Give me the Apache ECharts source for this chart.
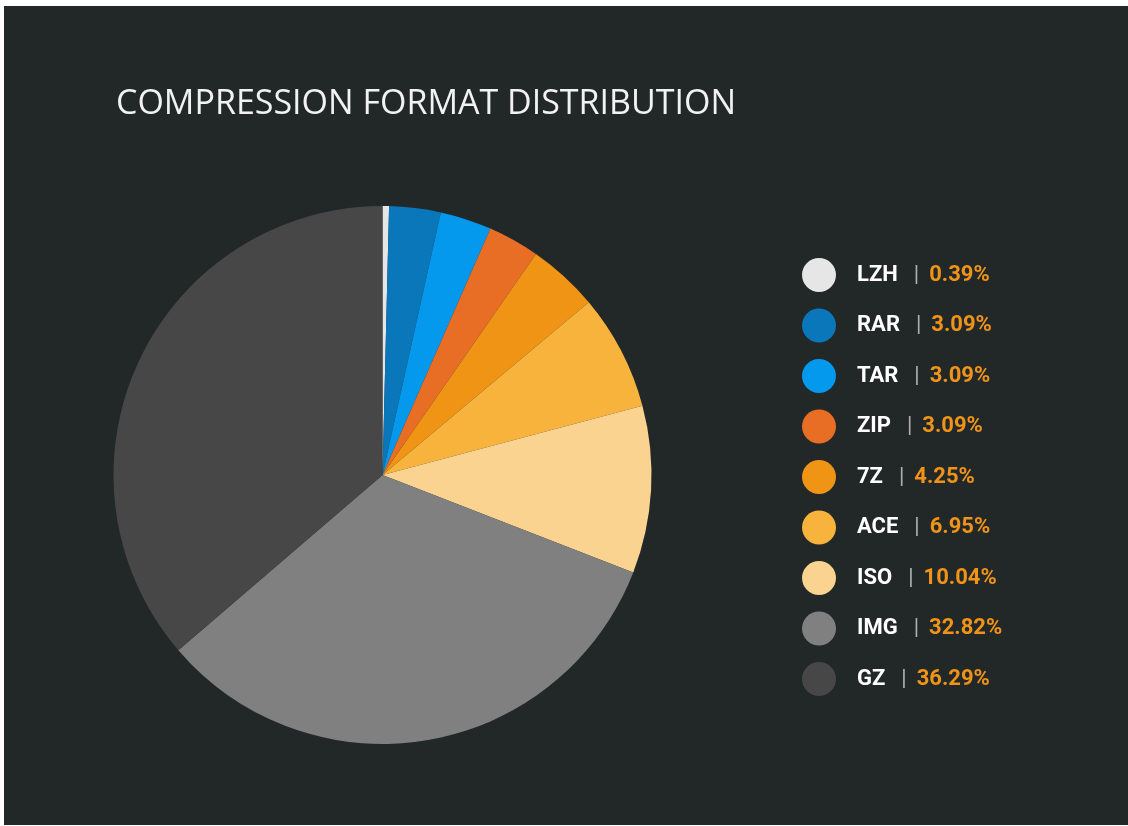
<!DOCTYPE html>
<html lang="en">
  <head>
    <meta charset="UTF-8" />
    <title>Compression Format Distribution</title>
    <style>
      html,
      body {
        margin: 0;
        padding: 0;
        background: #ffffff;
      }

      #main {
        position: absolute;
        left: 4px;
        top: 6px;
        width: 1124px;
        height: 819px;
        background: #222728;
      }
    </style>
  </head>

  <body>
    <div id="main"></div>

    <script src="https://cdn.jsdelivr.net/npm/echarts@6/dist/echarts.min.js"></script>
    <script>
      var formats = ["LZH", "RAR", "TAR", "ZIP", "7Z", "ACE", "ISO", "IMG", "GZ"];
      var shares = [0.39, 3.09, 3.09, 3.09, 4.25, 6.95, 10.04, 32.82, 36.29];
      var colors = [
        "#e6e6e6",
        "#0a77ba",
        "#0499ec",
        "#e96e25",
        "#ef9414",
        "#f8b33d",
        "#f9d38f",
        "#808080",
        "#474747"
      ];

      var chart = echarts.init(document.getElementById("main"));

      chart.setOption({
        backgroundColor: "#222728",
        color: colors,
        title: {
          text: "COMPRESSION FORMAT DISTRIBUTION",
          left: 107,
          top: 76,
          textStyle: {
            color: "#f2f2f2",
            fontFamily: "Open Sans",
            fontWeight: "normal",
            fontSize: 34
          }
        },
        legend: {
          orient: "vertical",
          left: 793,
          top: 247,
          icon: "circle",
          itemWidth: 34,
          itemHeight: 34,
          itemGap: 16.5,
          selectedMode: false,
          itemStyle: { borderWidth: 0 },
          formatter: function(name) {
            var v = shares[formats.indexOf(name)];
            return "{n|" + name + "}{s||}{p|" + v.toFixed(2) + "%}";
          },
          textStyle: {
            rich: {
              n: {
                color: "#ffffff",
                fontFamily: "Roboto",
                fontWeight: "bold",
                fontSize: 22,
                padding: [0, 0, 0, 16]
              },
              s: {
                color: "#b0b0b0",
                fontFamily: "Roboto",
                fontSize: 22,
                padding: [0, 10, 0, 16]
              },
              p: {
                color: "#ef9419",
                fontFamily: "Roboto",
                fontWeight: "bold",
                fontSize: 22
              }
            }
          }
        },
        series: [
          {
            type: "pie",
            center: [378.5, 469],
            radius: [0, 269],
            startAngle: 90,
            clockwise: true,
            label: { show: false },
            labelLine: { show: false },
            emphasis: { disabled: true },
            itemStyle: { borderWidth: 0 },
            data: formats.map(function(f, i) {
              return { name: f, value: shares[i] };
            })
          }
        ]
      });
    </script>
  </body>
</html>
